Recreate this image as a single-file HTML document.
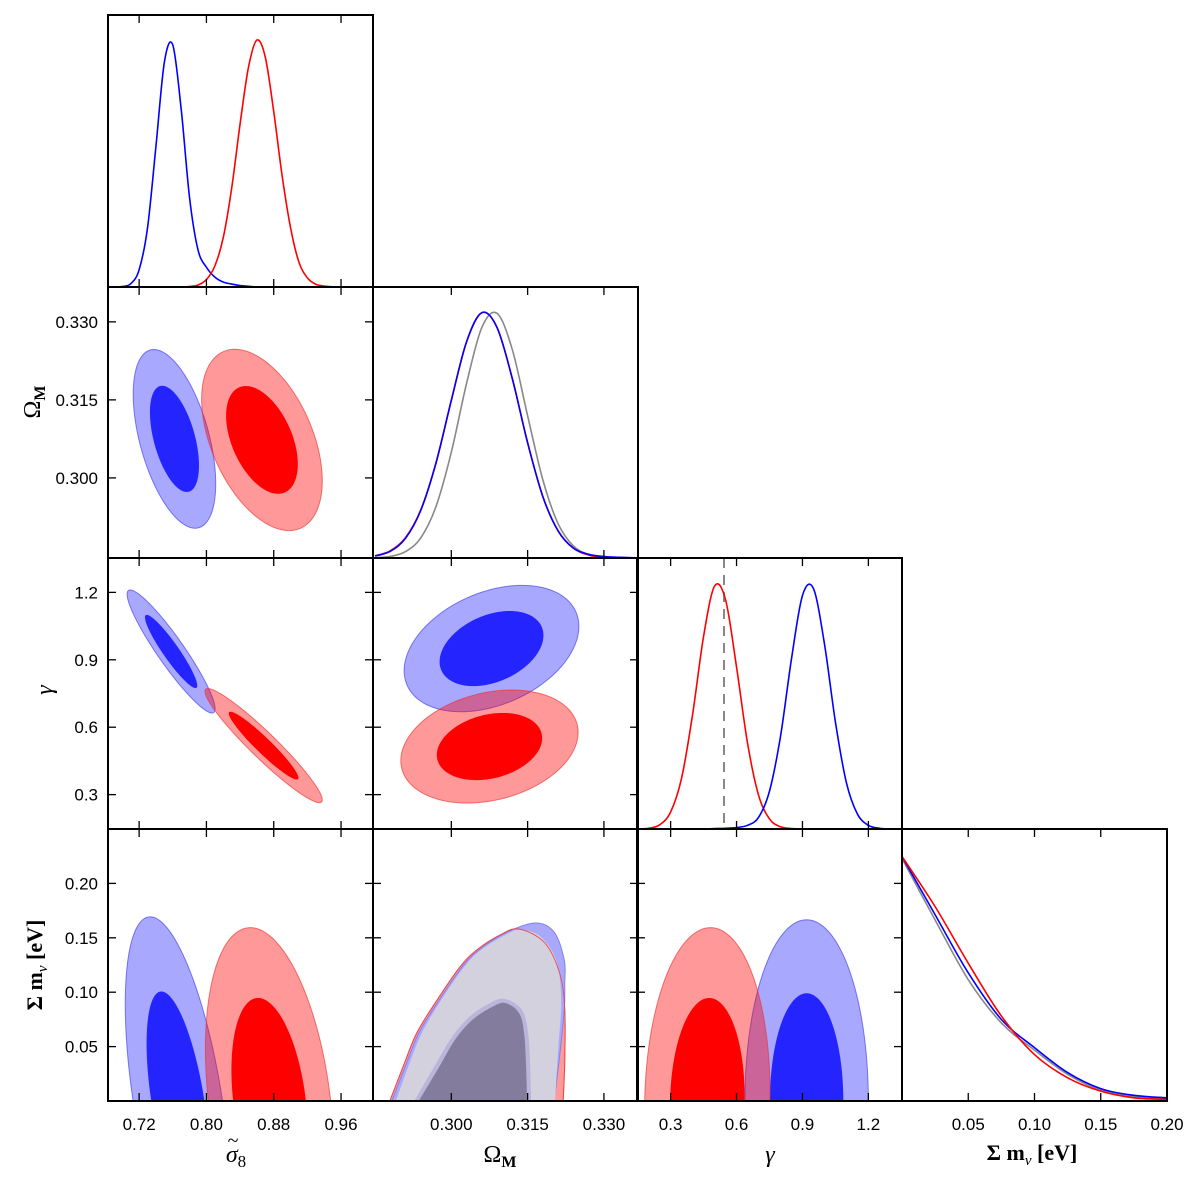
<!DOCTYPE html>
<html><head><meta charset="utf-8">
<style>
html,body{margin:0;padding:0;background:#fff;width:1200px;height:1185px;overflow:hidden;}
svg{display:block;font-family:"Liberation Sans",sans-serif;}
.tl{font-size:17px;fill:#000;}
.al{font-family:"Liberation Serif",serif;fill:#000;}
</style></head>
<body>
<svg id="chart" width="1200" height="1185" viewBox="0 0 1200 1185" xmlns="http://www.w3.org/2000/svg">
<defs id="defs"></defs>
<g id="marks"></g>
<g id="frames"></g>
<g id="labels">
 <g>
  <text class="al" x="236" y="1162" text-anchor="middle" font-size="24" font-style="italic">σ<tspan font-size="17" dy="5" font-style="normal">8</tspan></text>
  <text class="al" x="233" y="1147" text-anchor="middle" font-size="20">~</text>
 </g>
 <text class="al" x="500" y="1162" text-anchor="middle" font-size="24">Ω<tspan font-size="16" font-weight="bold" dy="5">M</tspan></text>
 <text class="al" x="770" y="1162" text-anchor="middle" font-size="24" font-style="italic">γ</text>
 <text class="al" x="1032" y="1160" text-anchor="middle" font-size="22" font-weight="bold">Σ m<tspan font-size="15" font-style="italic" font-weight="normal" dy="5">ν</tspan><tspan dy="-5"> [eV]</tspan></text>
 <text class="al" transform="translate(40,402) rotate(-90)" text-anchor="middle" font-size="24">Ω<tspan font-size="16" font-weight="bold" dy="5">M</tspan></text>
 <text class="al" transform="translate(52,690) rotate(-90)" text-anchor="middle" font-size="24" font-style="italic">γ</text>
 <text class="al" transform="translate(42,965) rotate(-90)" text-anchor="middle" font-size="22" font-weight="bold">Σ m<tspan font-size="15" font-style="italic" font-weight="normal" dy="5">ν</tspan><tspan dy="-5"> [eV]</tspan></text>
</g>
</svg>
<script>
// ---------- data ----------
const sig8Ticks = [0.72, 0.80, 0.88, 0.96];
const sig8TickLabels = ["0.72", "0.80", "0.88", "0.96"];
const omTicks = [0.300, 0.315, 0.330];
const omTickLabels = ["0.300", "0.315", "0.330"];
const gamTicks = [0.3, 0.6, 0.9, 1.2];
const gamTickLabels = ["0.3", "0.6", "0.9", "1.2"];
const mnuTicks = [0.05, 0.10, 0.15, 0.20];
const mnuTickLabels = ["0.05", "0.10", "0.15", "0.20"];

const sig8Grid = [0.69,0.70,0.71,0.72,0.73,0.74,0.75,0.76,0.77,0.78,0.79,0.80,0.81,0.82,0.83,0.84,0.85,0.86,0.87,0.88,0.89,0.90,0.91,0.92,0.93,0.94,0.95,0.96,0.97];
const sig8Blue = [0,0.002,0.013,0.07,0.24,0.57,0.91,0.98,0.72,0.36,0.15,0.08,0.04,0.02,0.012,0.006,0.003,0,0,0,0,0,0,0,0,0,0,0,0];
const sig8Red  = [0,0,0,0,0,0,0,0,0,0.002,0.008,0.03,0.085,0.20,0.40,0.66,0.89,1.0,0.93,0.71,0.45,0.24,0.10,0.037,0.011,0.004,0.001,0,0];

const omGrid = [0.285,0.288,0.291,0.294,0.297,0.300,0.303,0.306,0.309,0.312,0.315,0.318,0.321,0.324,0.327,0.330,0.333,0.336];
const omBlue = [0.008,0.027,0.080,0.194,0.387,0.641,0.879,0.997,0.936,0.728,0.468,0.249,0.110,0.040,0.015,0.006,0.003,0.001];
const omRed  = [0.009,0.029,0.083,0.196,0.388,0.641,0.879,0.997,0.936,0.728,0.468,0.249,0.110,0.040,0.012,0.003,0.001,0];
const omGray = [0.001,0.0065,0.026,0.082,0.21,0.43,0.71,0.937,0.994,0.846,0.578,0.317,0.139,0.049,0.014,0.003,0.0005,0];

const gamGrid = [0.15,0.20,0.25,0.30,0.35,0.40,0.45,0.50,0.55,0.60,0.65,0.70,0.75,0.80,0.85,0.90,0.95,1.00,1.05,1.10,1.15,1.20,1.25,1.30,1.35];
const gamRed  = [0.0005,0.003,0.017,0.069,0.207,0.465,0.783,0.987,0.932,0.658,0.349,0.138,0.041,0.009,0.002,0,0,0,0,0,0,0,0,0,0];
const gamBlue = [0,0,0,0,0,0,0,0.002,0.003,0.006,0.015,0.047,0.154,0.376,0.691,0.949,0.977,0.753,0.435,0.188,0.061,0.015,0.003,0.0005,0];
const gamReference = [0.543];

const mnuGrid = [0,0.025,0.05,0.075,0.10,0.125,0.15,0.175,0.20];
const mnuRed  = [0.99,0.787,0.558,0.344,0.188,0.094,0.040,0.013,0.0066];
const mnuBlue = [0.99,0.754,0.519,0.330,0.216,0.115,0.050,0.023,0.013];
const mnuGray = [0.982,0.733,0.491,0.316,0.206,0.108,0.044,0.018,0.010];

// Gaussian contour summaries: [meanX, meanY, sigmaX, sigmaY, rho]
const sig8OmBlue = [0.762, 0.3075, 0.0197, 0.0069, -0.5];
const sig8OmRed  = [0.866, 0.3073, 0.0288, 0.0070, -0.45];
const sig8GamBlue = [0.758, 0.937, 0.021, 0.110, -0.93];
const sig8GamRed  = [0.868, 0.518, 0.028, 0.102, -0.95];
const sig8MnuBlue = [0.766, 0, 0.0251, 0.068, -0.526];
const sig8MnuRed  = [0.875, 0, 0.0306, 0.064, -0.30];
const omGamBlue = [0.3079, 0.950, 0.0069, 0.113, 0.35];
const omGamRed  = [0.3075, 0.514, 0.0070, 0.101, 0.25];
const gamMnuRed  = [0.467, 0, 0.1146, 0.064, 0.05];
const gamMnuBlue = [0.919, 0, 0.1128, 0.0669, 0];
const levels = [2.49, 1.48];

// Omega-mnu contour vertices
const omMnuRedOuter  = [[0.2879,0],[0.2905,0.0313],[0.2932,0.0625],[0.2972,0.0928],[0.3017,0.1232],[0.3050,0.1388],[0.3096,0.1526],[0.3133,0.1581],[0.3184,0.1452],[0.3214,0.1158],[0.3223,0.0836],[0.3223,0.0377],[0.3220,0]];
const omMnuBlueOuter = [[0.2883,0],[0.2909,0.0313],[0.2936,0.0625],[0.2976,0.0928],[0.3021,0.1232],[0.3054,0.1388],[0.3106,0.1544],[0.3165,0.1636],[0.3202,0.1553],[0.3222,0.1296],[0.3223,0.1085],[0.3222,0.0836],[0.3212,0.0377],[0.3202,0]];
const omMnuGrayOuter = [[0.2891,0],[0.2915,0.0313],[0.2942,0.0625],[0.2980,0.0928],[0.3025,0.1232],[0.3058,0.1388],[0.3106,0.1526],[0.3133,0.1572],[0.3174,0.1517],[0.3206,0.1296],[0.3216,0.0928],[0.3210,0.0469],[0.3204,0]];
const omMnuBlueInner = [[0.2927,0],[0.2966,0.0313],[0.3000,0.0579],[0.3035,0.0772],[0.3076,0.0901],[0.3106,0.0938],[0.3139,0.0836],[0.3151,0.0625],[0.3155,0.0313],[0.3157,0]];
const omMnuGrayInner = [[0.2936,0],[0.2976,0.0313],[0.3007,0.0561],[0.3041,0.0744],[0.3080,0.0864],[0.3106,0.0901],[0.3133,0.0809],[0.3143,0.0625],[0.3147,0.0313],[0.3149,0]];

// ---------- layout ----------
const NS = "http://www.w3.org/2000/svg";
const colX = [108, 373, 637, 902], colW = 265;
const rowY = [15, 287, 558, 829], rowH = [272, 271, 271, 272];
const rangesX = [[0.683,0.998],[0.2846,0.3367],[0.147,1.353],[0,0.20]];
const rangesY = [[0,1],[0.2846,0.3367],[0.147,1.353],[0,0.25]];
const PEAK = 0.908;

function X(c, v){ const r = rangesX[c]; return colX[c] + (v - r[0]) / (r[1] - r[0]) * colW; }
function Y(r, v){ const g = rangesY[r]; return rowY[r] + rowH[r] - (v - g[0]) / (g[1] - g[0]) * rowH[r]; }
function YD(r, v){ return rowY[r] + rowH[r] - v * PEAK * rowH[r]; }

const marks = document.getElementById('marks');
const frames = document.getElementById('frames');
const defs = document.getElementById('defs');

function mk(tag, attrs, parent){
  const e = document.createElementNS(NS, tag);
  for (const k in attrs) e.setAttribute(k, attrs[k]);
  (parent || marks).appendChild(e);
  return e;
}
function spline(pts){
  let d = "M" + pts[0][0].toFixed(2) + "," + pts[0][1].toFixed(2);
  for (let i = 0; i < pts.length - 1; i++){
    const p0 = pts[Math.max(0, i-1)], p1 = pts[i], p2 = pts[i+1], p3 = pts[Math.min(pts.length-1, i+2)];
    const c1x = p1[0] + (p2[0]-p0[0])/6, c1y = p1[1] + (p2[1]-p0[1])/6;
    const c2x = p2[0] - (p3[0]-p1[0])/6, c2y = p2[1] - (p3[1]-p1[1])/6;
    d += "C" + c1x.toFixed(2) + "," + c1y.toFixed(2) + " " + c2x.toFixed(2) + "," + c2y.toFixed(2) + " " + p2[0].toFixed(2) + "," + p2[1].toFixed(2);
  }
  return d;
}
function clipFor(r, c){
  const id = "clip" + r + c;
  const cp = mk('clipPath', {id: id}, defs);
  mk('rect', {x: colX[c], y: rowY[r], width: colW, height: rowH[r]}, cp);
  return "url(#" + id + ")";
}
function panelGroup(r, c, name){
  const g = mk('g', {'clip-path': clipFor(r, c)});
  
  
  return g;
}
function line1D(g, r, c, grid, vals, color, name){
  const pts = grid.map((v, i) => [X(c, v), YD(r, vals[i])]);
  const p = mk('path', {d: spline(pts), fill: 'none', stroke: color, 'stroke-width': 1.6}, g);
  
  
}
function ellipse(g, r, c, par, k, fill, stroke, name){
  const pts = [];
  for (let i = 0; i < 120; i++){
    const t = i / 120 * 2 * Math.PI;
    const dx = k * par[2] * Math.cos(t);
    const dy = k * par[3] * (par[4] * Math.cos(t) + Math.sqrt(1 - par[4]*par[4]) * Math.sin(t));
    pts.push(X(c, par[0] + dx).toFixed(2) + "," + Y(r, par[1] + dy).toFixed(2));
  }
  const p = mk('polygon', {points: pts.join(" "), fill: fill, stroke: stroke, 'stroke-width': 1}, g);
  
  
}
function contourPath(g, r, c, verts, fill, stroke, name){
  const pts = verts.map(v => [X(c, v[0]), Y(r, v[1])]);
  const p = mk('path', {d: spline(pts) + "Z", fill: fill, stroke: stroke, 'stroke-width': 1}, g);
  
  
}

const BO = 'rgba(0,0,255,0.34)', BOs = 'rgba(50,50,235,0.6)', BI = '#2424ff';
const RO = 'rgba(255,0,0,0.40)', ROs = 'rgba(235,50,50,0.65)', RI = '#ff0000';

// ---- diagonal panels ----
let g = panelGroup(0, 0, 'sigma8-marginal');
line1D(g, 0, 0, sig8Grid, sig8Blue, '#0000ff', 'sigma8-blue-curve');
line1D(g, 0, 0, sig8Grid, sig8Red, '#ff0000', 'sigma8-red-curve');

g = panelGroup(1, 1, 'omega-marginal');
line1D(g, 1, 1, omGrid, omGray, '#888888', 'omega-gray-curve');
line1D(g, 1, 1, omGrid, omRed, '#ff0000', 'omega-red-curve');
line1D(g, 1, 1, omGrid, omBlue, '#0000ff', 'omega-blue-curve');

g = panelGroup(2, 2, 'gamma-marginal');
const ref = mk('line', {x1: X(2, gamReference[0]), x2: X(2, gamReference[0]), y1: rowY[2], y2: rowY[2] + rowH[2], stroke: '#888888', 'stroke-width': 2, 'stroke-dasharray': '10,7'}, g);


line1D(g, 2, 2, gamGrid, gamRed, '#ff0000', 'gamma-red-curve');
line1D(g, 2, 2, gamGrid, gamBlue, '#0000ff', 'gamma-blue-curve');

g = panelGroup(3, 3, 'mnu-marginal');
line1D(g, 3, 3, mnuGrid, mnuGray, '#888888', 'mnu-gray-curve');
line1D(g, 3, 3, mnuGrid, mnuBlue, '#0000ff', 'mnu-blue-curve');
line1D(g, 3, 3, mnuGrid, mnuRed, '#ff0000', 'mnu-red-curve');

// ---- 2D panels ----
function pair(r, c, blue, red, name){
  const gg = panelGroup(r, c, name);
  ellipse(gg, r, c, blue, levels[0], BO, BOs, name + '-blue-95');
  ellipse(gg, r, c, blue, levels[1], BI, 'none', name + '-blue-68');
  ellipse(gg, r, c, red, levels[0], RO, ROs, name + '-red-95');
  ellipse(gg, r, c, red, levels[1], RI, 'none', name + '-red-68');
}
pair(1, 0, sig8OmBlue, sig8OmRed, 'sigma8-omega-panel');
pair(2, 0, sig8GamBlue, sig8GamRed, 'sigma8-gamma-panel');
pair(3, 0, sig8MnuBlue, sig8MnuRed, 'sigma8-mnu-panel');
pair(2, 1, omGamBlue, omGamRed, 'omega-gamma-panel');
pair(3, 2, gamMnuBlue, gamMnuRed, 'gamma-mnu-panel');

g = panelGroup(3, 1, 'omega-mnu-panel');
contourPath(g, 3, 1, omMnuRedOuter, '#ff9a9a', '#ff7070', 'omega-mnu-red-95');
contourPath(g, 3, 1, omMnuBlueOuter, '#a9a9fb', '#8080f0', 'omega-mnu-blue-95');
contourPath(g, 3, 1, omMnuGrayOuter, '#d3d1dd', 'none', 'omega-mnu-gray-95');
contourPath(g, 3, 1, omMnuBlueInner, '#b9b6d9', 'none', 'omega-mnu-blue-68');
contourPath(g, 3, 1, omMnuGrayInner, '#837c9c', 'none', 'omega-mnu-gray-68');
const ro = mk('path', {d: spline(omMnuRedOuter.map(v => [X(1, v[0]), Y(3, v[1])])), fill: 'none', stroke: 'rgba(240,60,60,0.8)', 'stroke-width': 1}, g);



// ---- frames and ticks ----
const xTicks = [sig8Ticks, omTicks, gamTicks, mnuTicks];
const xTickLabels = [sig8TickLabels, omTickLabels, gamTickLabels, mnuTickLabels];
const yTicks = [[], omTicks, gamTicks, mnuTicks];
const yTickLabels = [[], omTickLabels, gamTickLabels, mnuTickLabels];
const TL = 8;
for (let r = 0; r < 4; r++){
  for (let c = 0; c <= r; c++){
    const x0 = colX[c], y0 = rowY[r], h = rowH[r];
    const fr = mk('rect', {x: x0, y: y0, width: colW, height: h, fill: 'none', stroke: '#000', 'stroke-width': 2}, frames);
    
    
    xTicks[c].forEach((v, i) => {
      const px = X(c, v);
      mk('line', {x1: px, x2: px, y1: y0 + h, y2: y0 + h - TL, stroke: '#000', 'stroke-width': 1.3}, frames);
      mk('line', {x1: px, x2: px, y1: y0, y2: y0 + TL, stroke: '#000', 'stroke-width': 1.3}, frames);
      if (r === 3){
        const t = mk('text', {x: px, y: 1130, 'text-anchor': 'middle', class: 'tl'}, frames);
        t.textContent = xTickLabels[c][i];
        
        
      }
    });
    if (r !== c){
      yTicks[r].forEach((v, i) => {
        const py = Y(r, v);
        mk('line', {x1: x0, x2: x0 + TL, y1: py, y2: py, stroke: '#000', 'stroke-width': 1.3}, frames);
        mk('line', {x1: x0 + colW, x2: x0 + colW - TL, y1: py, y2: py, stroke: '#000', 'stroke-width': 1.3}, frames);
        if (c === 0){
          const t = mk('text', {x: 98, y: py + 6, 'text-anchor': 'end', class: 'tl'}, frames);
          t.textContent = yTickLabels[r][i];
          
          
        }
      });
    }
  }
}
</script>
</body></html>
